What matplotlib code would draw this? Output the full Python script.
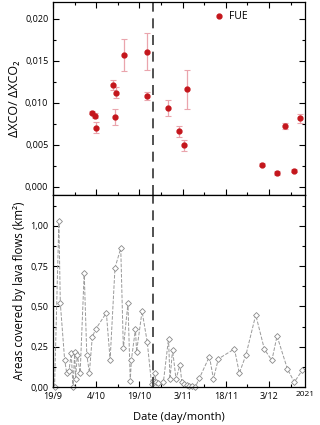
#----------------------------------------------------------------------
# dXCO/dXCO2 ratio (FUE) and lava flow areas, La Palma 2021
#----------------------------------------------------------------------

import matplotlib

matplotlib.use('Agg')

import matplotlib.pyplot as plt
import matplotlib.ticker as mticker
import numpy as np

plt.rcParams['font.family'] = ['Open Sans', 'DejaVu Sans']

# days since 19/9
ratio_day = [13.6, 14.7, 14.9, 20.7, 21.8, 21.5, 24.5, 32.7, 32.6, 39.8,
             43.6, 45.6, 46.6, 72.7, 77.8, 80.6, 83.7, 85.9]
ratio_val = [0.00884, 0.00848, 0.00704, 0.01207, 0.01119, 0.00830, 0.01571,
             0.01610, 0.01079, 0.00939, 0.00660, 0.00492, 0.01160, 0.00264,
             0.00164, 0.00723, 0.00192, 0.00815]
ratio_err = [0.0002, 0.0003, 0.00066, 0.0006, 0.00066, 0.00092, 0.0019,
             0.0022, 0.0005, 0.00094, 0.00064, 0.0007, 0.0023, 0.00015,
             0.0002, 0.0004, 0.00015, 0.0005]

area_day = [0.5, 2.0, 2.5, 4.0, 4.7, 5.5, 6.3, 6.9, 7.5, 7.8, 8.4, 9.4,
            10.8, 11.7, 12.6, 13.6, 14.8, 18.5, 19.8, 21.5, 23.5, 24.4,
            26.0, 26.8, 27.2, 28.6, 29.0, 30.9, 32.7, 34.2, 34.8, 35.3,
            35.8, 36.6, 38.3, 40.1, 40.6, 41.5, 42.7, 44.1, 44.7, 45.3,
            46.4, 47.3, 48.2, 49.4, 50.8, 54.3, 55.7, 57.4, 63.0, 64.7,
            67.0, 70.4, 73.4, 76.0, 77.8, 81.4, 83.8, 86.6]
area_val = [0.00, 1.03, 0.52, 0.17, 0.09, 0.10, 0.21, 0.00, 0.22, 0.05,
            0.20, 0.09, 0.71, 0.20, 0.09, 0.31, 0.36, 0.46, 0.17, 0.74,
            0.86, 0.24, 0.52, 0.04, 0.17, 0.36, 0.22, 0.47, 0.28, 0.02,
            0.04, 0.09, 0.03, 0.025, 0.03, 0.30, 0.05, 0.23, 0.05, 0.14,
            0.03, 0.02, 0.015, 0.01, 0.008, 0.0, 0.055, 0.19, 0.052, 0.175,
            0.237, 0.087, 0.20, 0.448, 0.235, 0.166, 0.317, 0.113, 0.031,
            0.106]

event_day = 34.6

tick_days = [0, 15, 30, 45, 60, 75]
tick_labels = ['19/9', '4/10', '19/10', '3/11', '18/11', '3/12']
year_label = '2021'

red = '#c4161c'


def comma_fmt(nd):
    return mticker.FuncFormatter(lambda v, p: ('{:.%df}' % nd).format(v).replace('.', ','))


def style_axes(ax):
    ax.tick_params(which='both', direction='in', labelsize=6.5, width=0.8)
    ax.tick_params(which='major', length=4)
    ax.tick_params(which='minor', length=2.5)
    for s in ax.spines.values():
        s.set_linewidth(0.9)


def plot_lava():

    fig = plt.figure(figsize=(3.2, 4.25), dpi=100)
    ax1 = fig.add_axes([0.166, 0.541, 0.787, 0.454])
    ax2 = fig.add_axes([0.166, 0.089, 0.787, 0.452], sharex=ax1)

    # top panel
    ax1.errorbar(ratio_day, ratio_val, yerr=ratio_err, fmt='o', ms=3.5,
                 color=red, ecolor='#eaa5ad', elinewidth=0.9,
                 capsize=2.2, capthick=0.8)
    ax1.plot([], [], 'o', ms=3.5, color=red, label='FUE')   # legend proxy, dot only
    ax1.axvline(event_day, color='#333333', lw=1.2, dashes=(6, 4))
    ax1.set_ylim(-0.001, 0.022)
    ax1.yaxis.set_major_locator(mticker.MultipleLocator(0.005))
    ax1.yaxis.set_minor_locator(mticker.MultipleLocator(0.0025))
    ax1.yaxis.set_major_formatter(comma_fmt(3))
    ax1.set_ylabel('ΔXCO/ ΔXCO₂', fontsize=9, labelpad=3)
    ax1.tick_params(which='both', top=True, right=True, labelbottom=False)
    style_axes(ax1)
    ax1.legend(loc='upper left', bbox_to_anchor=(0.6, 1.0), frameon=False,
               fontsize=7.5, handletextpad=0.5, handlelength=1.0)

    # bottom panel
    ax2.plot(area_day, area_val, ls='--', lw=0.7, color='#9a9a9a',
             marker='D', ms=3, mfc='white', mec='#8a8a8a', mew=0.6, clip_on=False)
    ax2.axvline(event_day, color='#333333', lw=1.2, dashes=(6, 4))
    ax2.set_ylim(0, 1.19)
    ax2.yaxis.set_major_locator(mticker.MultipleLocator(0.25))
    ax2.yaxis.set_minor_locator(mticker.MultipleLocator(0.125))
    ax2.yaxis.set_major_formatter(comma_fmt(2))
    ax2.set_ylabel('Areas covered by lava flows (km²)', fontsize=8.3, labelpad=3)
    ax2.set_xlim(0, 87.5)
    ax2.set_xticks(tick_days)
    ax2.set_xticklabels(tick_labels)
    ax2.xaxis.set_minor_locator(mticker.MultipleLocator(7.5))
    ax2.tick_params(which='both', right=True)
    style_axes(ax2)
    ax2.set_xlabel('Date (day/month)', fontsize=8, labelpad=8)
    ax2.text(1.0, -0.02, year_label, transform=ax2.transAxes, fontsize=6,
             ha='center', va='top')

    fig.savefig('out.png', dpi=100)

    return


if __name__ == "__main__":
    plot_lava()
